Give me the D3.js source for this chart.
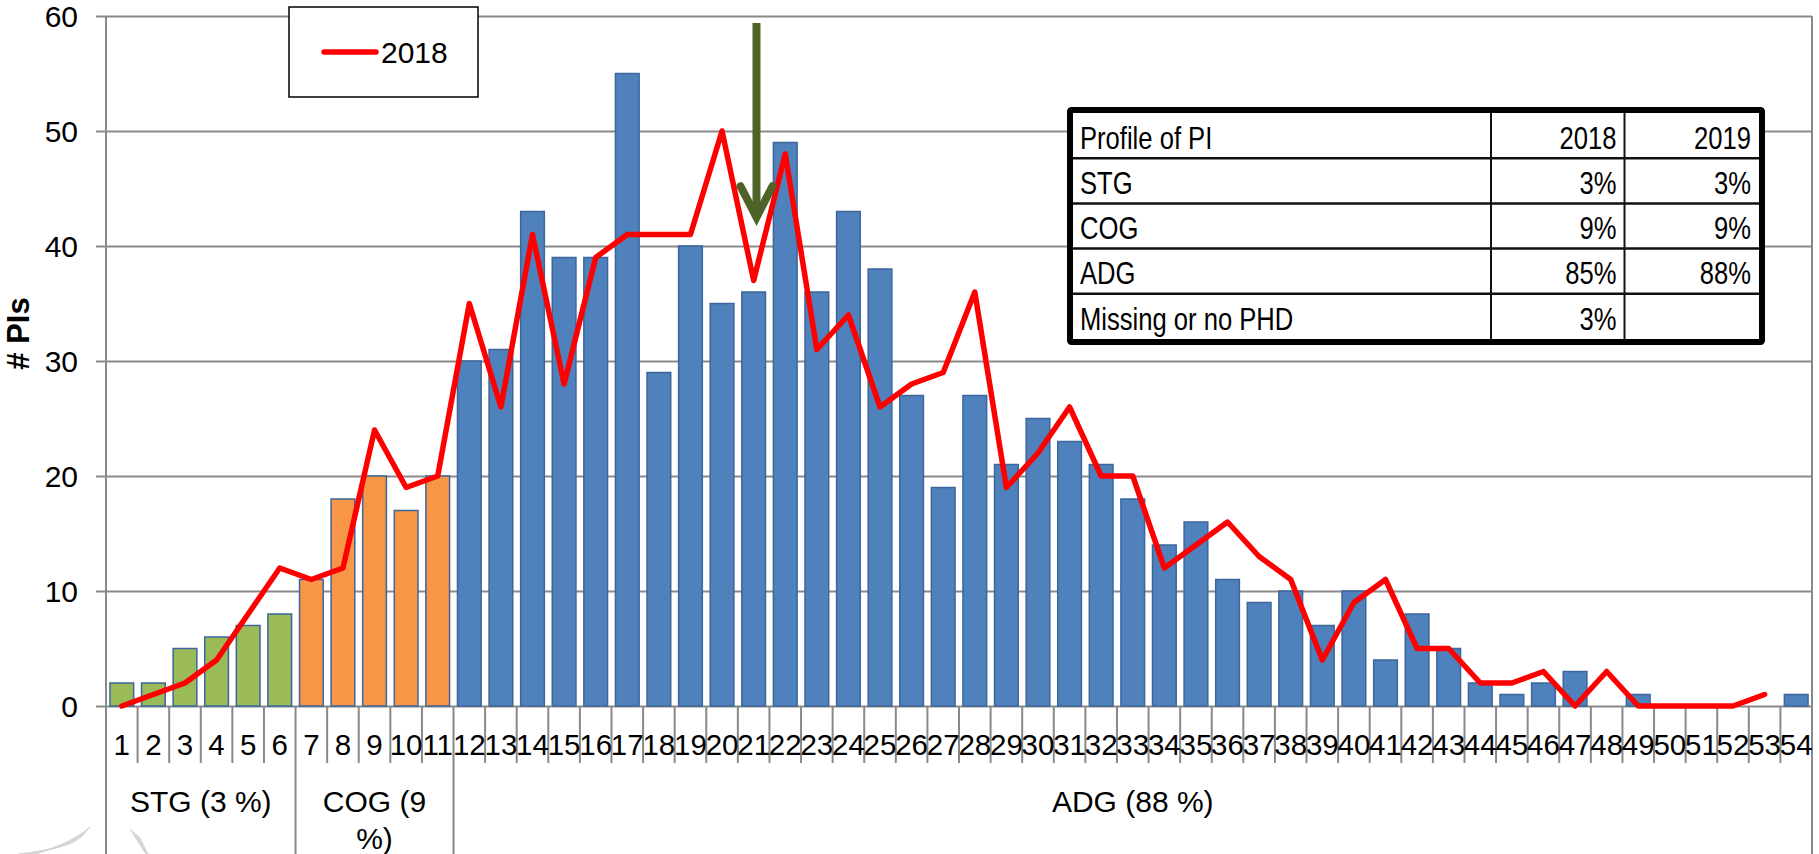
<!DOCTYPE html>
<html>
<head>
<meta charset="utf-8">
<script src="https://cdn.jsdelivr.net/npm/d3@7"></script>
<style>
  html, body { margin: 0; padding: 0; background: #ffffff; }
  svg { display: block; }
  text { font-family: "Liberation Sans", Arial, Helvetica, sans-serif; fill: #000; }
</style>
</head>
<body>
<svg id="chart" width="1819" height="854"></svg>
<script>
// ---------------- DATA ----------------
const categories = d3.range(1, 55).map(String);
const barValues = [2,2,5,6,7,8,11,18,20,17,20,30,31,43,39,39,55,29,40,35,36,49,36,43,38,27,19,27,21,25,23,21,18,14,16,11,9,10,7,10,4,8,5,2,1,2,3,0,1,0,0,0,0,1];
const line2018 = [0,1,2,4,8,12,11,12,24,19,20,35,26,41,28,39,41,41,41,50,37,48,31,34,26,28,29,36,19,22,26,20,20,12,14,16,13,11,4,9,11,5,5,2,2,3,0,3,0,0,0,0,1,null];
const groupNames  = ["STG", "COG", "ADG"];
const groupLabels = ["STG (3 %)", "COG (9 %)", "ADG (88 %)"];
const groupStart  = [1, 7, 12];
const groupEnd    = [6, 11, 54];
const groupColors = ["#9bbb59", "#f79646", "#4f81bd"];
const yTicks = [0, 10, 20, 30, 40, 50, 60];
const seriesName = "2018";
const yTitle = "# PIs";
const arrowCategory = "21";
const arrowFrom = 59.4;
const arrowTo = 42.5;
const tableHeader = ["Profile of PI", "2018", "2019"];
const tableRowNames = ["STG", "COG", "ADG", "Missing or no PHD"];
const table2018 = ["3%", "9%", "85%", "3%"];
const table2019 = ["3%", "9%", "88%", ""];

// ---------------- LAYOUT ----------------
const svg = d3.select("#chart");
const pL = 106, pR = 1812, pT = 16, zeroY = 706, bottomEdge = 854;
const gridColor = "#898989";

const x = d3.scaleBand().domain(categories).range([pL, pR])
  .paddingInner(0.25).paddingOuter(0.125);
const y = d3.scaleLinear().domain([0, 60]).range([zeroY, pT]);
const step = x.step();
const boundary = c => x(c) - step * 0.125;   // left edge of a category cell

function groupOf(i) {
  for (let g = 0; g < groupStart.length; g++) if (i + 1 >= groupStart[g] && i + 1 <= groupEnd[g]) return g;
  return 2;
}

// decorative faint swooshes at lower left
const deco = svg.append("g").attr("fill", "none").attr("stroke", "#d4d4d4").attr("stroke-width", 1);
for (let k = 0; k < 7; k++) {
  deco.append("path").attr("d", `M${18 + k * 3},854 Q${70},${849 - k * 0.8} ${82 + k * 1.5},${836 - k * 1.6}`);
  deco.append("path").attr("d", `M${130 + k * 1.5},${829 + k * 1.2} L${146 + k * 0.3},854`);
}

// gridlines + y ticks
const yAxis = d3.axisLeft(y).tickValues(yTicks).tickSize(pR - pL + 10).tickPadding(0).tickFormat("");
svg.append("g").attr("transform", `translate(${pR},0)`).call(yAxis)
  .call(g => g.select(".domain").remove())
  .call(g => g.selectAll("line").attr("stroke", gridColor).attr("stroke-width", 2));

svg.append("g").selectAll("text").data(yTicks).join("text")
  .attr("x", 78).attr("y", d => y(d)).attr("dy", "0.36em")
  .attr("text-anchor", "end").attr("font-size", 30).text(d => d);

// bars
svg.append("g").selectAll("rect").data(barValues).join("rect")
  .attr("x", (d, i) => x(categories[i]))
  .attr("width", x.bandwidth())
  .attr("y", d => y(d))
  .attr("height", d => zeroY - y(d))
  .attr("fill", (d, i) => groupColors[groupOf(i)])
  .attr("stroke", "#3d669a").attr("stroke-width", 1.5)
  .attr("display", d => d > 0 ? null : "none");

// axes frame lines
const frame = svg.append("g").attr("stroke", gridColor).attr("stroke-width", 2);
frame.append("line").attr("x1", pL).attr("x2", pL).attr("y1", pT).attr("y2", bottomEdge);
frame.append("line").attr("x1", pR).attr("x2", pR).attr("y1", pT).attr("y2", bottomEdge);
// category ticks
const separatorCats = groupStart.slice(1).map(String);
frame.selectAll("line.tick").data(categories.slice(1)).join("line").attr("class", "tick")
  .attr("x1", c => boundary(c)).attr("x2", c => boundary(c))
  .attr("y1", zeroY).attr("y2", c => separatorCats.includes(c) ? bottomEdge : 763);

// category labels
svg.append("g").selectAll("text").data(categories).join("text")
  .attr("x", c => x(c) + x.bandwidth() / 2).attr("y", 755)
  .attr("text-anchor", "middle").attr("font-size", 29.5).text(c => c);

// group labels (wrapped)
groupLabels.forEach((lab, g) => {
  const x0 = boundary(String(groupStart[g]));
  const x1 = groupEnd[g] === 54 ? pR : boundary(String(groupEnd[g] + 1));
  const cx = (x0 + x1) / 2, maxW = (x1 - x0) - 20;
  const t = svg.append("text").attr("x", cx).attr("y", 812).attr("text-anchor", "middle").attr("font-size", 30);
  const words = lab.split(" ");
  let line = [];
  let tspan = t.append("tspan").attr("x", cx).attr("dy", 0);
  words.forEach(w => {
    line.push(w);
    tspan.text(line.join(" "));
    if (tspan.node().getComputedTextLength() > maxW && line.length > 1) {
      line.pop(); tspan.text(line.join(" "));
      line = [w];
      tspan = t.append("tspan").attr("x", cx).attr("dy", 36.5).text(w);
    }
  });
});

// y title
svg.append("text").attr("transform", "translate(29,333.5) rotate(-90)")
  .attr("text-anchor", "middle").attr("font-size", 31).attr("font-weight", "bold").text(yTitle);

// 2018 line
const lineGen = d3.line()
  .defined(d => d != null)
  .x((d, i) => x(categories[i]) + x.bandwidth() / 2)
  .y(d => y(d));
svg.append("path").datum(line2018).attr("d", lineGen)
  .attr("fill", "none").attr("stroke", "#ff0000").attr("stroke-width", 5.5)
  .attr("stroke-linejoin", "round").attr("stroke-linecap", "round");

// arrow annotation
const ax = x(arrowCategory) + x.bandwidth() * 0.62;
const ay0 = y(arrowFrom), ay1 = y(arrowTo);
const arrow = svg.append("g").attr("stroke", "#4f6228").attr("fill", "none").attr("stroke-width", 8);
arrow.append("line").attr("x1", ax).attr("x2", ax).attr("y1", ay0).attr("y2", ay1 - 6);
arrow.append("path").attr("d", `M${ax - 16},${ay1 - 31} L${ax},${ay1} L${ax + 16},${ay1 - 31}`)
  .attr("stroke-linejoin", "miter").attr("stroke-linecap", "round");

// legend
const lg = svg.append("g");
lg.append("rect").attr("x", 289).attr("y", 7).attr("width", 189).attr("height", 90)
  .attr("fill", "#fff").attr("stroke", "#000").attr("stroke-width", 1.5);
lg.append("line").attr("x1", 324).attr("x2", 376).attr("y1", 52).attr("y2", 52)
  .attr("stroke", "#ff0000").attr("stroke-width", 5.5).attr("stroke-linecap", "round");
lg.append("text").attr("x", 381).attr("y", 63).attr("font-size", 30).text(seriesName);

// table
const tb = svg.append("g");
const tx0 = 1073, tx1 = 1759, ty0 = 113, rowH = 45.2, col1 = 1491, col2 = 1624.5;
const nRows = tableRowNames.length + 1;
tb.append("rect").attr("x", tx0).attr("y", ty0).attr("width", tx1 - tx0).attr("height", rowH * nRows)
  .attr("fill", "#fff");
for (let r = 1; r < nRows; r++) {
  tb.append("line").attr("x1", tx0).attr("x2", tx1).attr("y1", ty0 + r * rowH).attr("y2", ty0 + r * rowH)
    .attr("stroke", "#111").attr("stroke-width", 2.5);
}
[col1, col2].forEach(cx => tb.append("line").attr("x1", cx).attr("x2", cx)
  .attr("y1", ty0).attr("y2", ty0 + rowH * nRows).attr("stroke", "#111").attr("stroke-width", 2));
tb.append("rect").attr("x", tx0 - 3).attr("y", ty0 - 3).attr("width", tx1 - tx0 + 6).attr("height", rowH * nRows + 6)
  .attr("fill", "none").attr("stroke", "#000").attr("stroke-width", 6).attr("rx", 1.5);

function cell(txt, xPos, row, anchor) {
  tb.append("text")
    .attr("transform", `translate(${xPos},${ty0 + (row + 1) * rowH - 9.5}) scale(0.8,1)`)
    .attr("text-anchor", anchor).attr("font-size", 32).text(txt);
}
const rows = [tableHeader].concat(tableRowNames.map((n, i) => [n, table2018[i], table2019[i]]));
rows.forEach((r, i) => {
  cell(r[0], 1080, i, "start");
  cell(r[1], col2 - 8, i, "end");
  cell(r[2], tx1 - 8, i, "end");
});
</script>
</body>
</html>
